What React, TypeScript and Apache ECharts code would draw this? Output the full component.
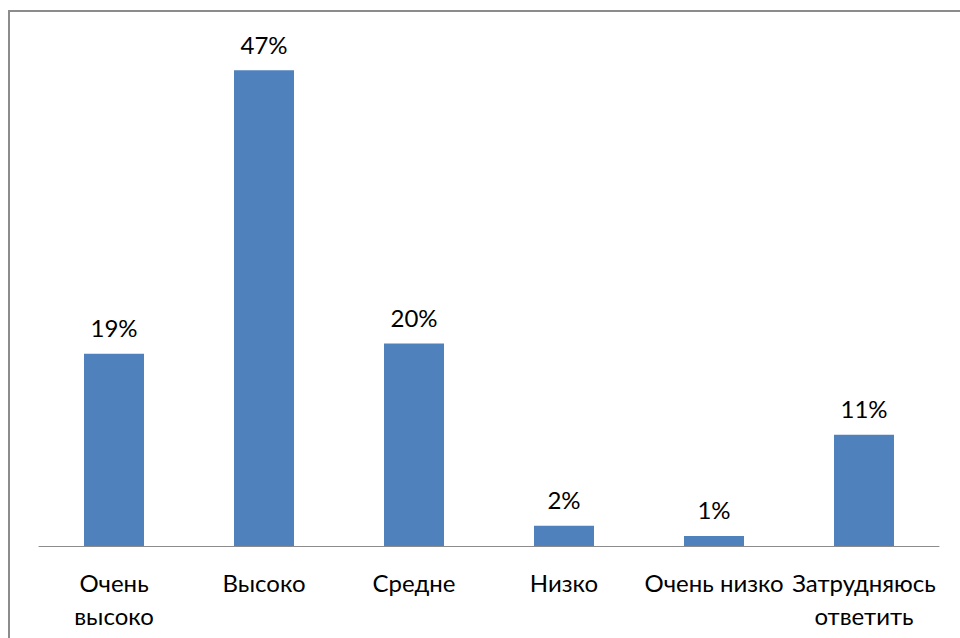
import React, { useEffect, useRef } from "react";
import * as echarts from "echarts";

const categories = ["Очень\nвысоко", "Высоко", "Средне", "Низко", "Очень низко", "Затрудняюсь\nответить"];
const values = [19, 47, 20, 2, 1, 11];

const FONT = "Lato, 'Noto Sans', sans-serif";

export default function App() {
  const ref = useRef<HTMLDivElement>(null);
  useEffect(() => {
    if (!ref.current) return;
    const chart = echarts.init(ref.current, undefined, { renderer: "svg" });
    chart.setOption({
      animation: false,
      backgroundColor: "#ffffff",
      grid: { left: 39, right: 21, top: 40, bottom: 92, containLabel: false },
      xAxis: {
        type: "category",
        data: categories,
        axisLine: { lineStyle: { color: "#8c8c8c", width: 1 } },
        axisTick: { show: false },
        axisLabel: {
          color: "#000000",
          fontFamily: FONT,
          fontSize: 24,
          lineHeight: 33,
          margin: 20,
          interval: 0,
        },
      },
      yAxis: {
        type: "value",
        min: 0,
        max: 50,
        show: false,
        splitLine: { show: false },
      },
      series: [
        {
          type: "bar",
          data: values,
          barWidth: 60,
          itemStyle: { color: "#4F81BD" },
          label: {
            show: true,
            position: "top",
            distance: 14,
            color: "#000000",
            fontFamily: FONT,
            fontSize: 24,
            formatter: (p: any) => p.value + "%",
          },
        },
      ],
      graphic: [
        {
          type: "polyline",
          shape: { points: [[9, 640], [9, 11], [962, 11]] },
          style: { stroke: "#8c8c8c", lineWidth: 2, fill: "none" },
          silent: true,
        },
      ],
    });
    return () => chart.dispose();
  }, []);
  return (
    <div
      ref={ref}
      style={{ position: "fixed", left: 0, top: 0, width: 960, height: 638 }}
    />
  );
}
